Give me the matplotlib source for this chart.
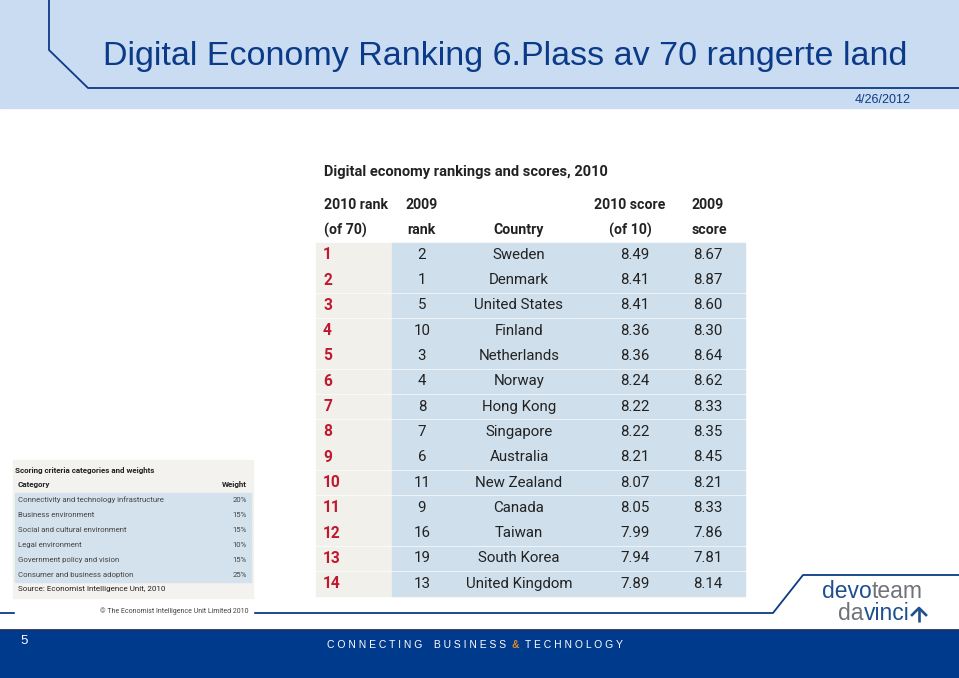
import matplotlib
matplotlib.use("Agg")
import matplotlib.pyplot as plt
from matplotlib.patches import Rectangle

# ---- data ----
rank_2010 = [1, 2, 3, 4, 5, 6, 7, 8, 9, 10, 11, 12, 13, 14]
rank_2009 = [2, 1, 5, 10, 3, 4, 8, 7, 6, 11, 9, 16, 19, 13]
countries = ["Sweden", "Denmark", "United States", "Finland", "Netherlands",
             "Norway", "Hong Kong", "Singapore", "Australia", "New Zealand",
             "Canada", "Taiwan", "South Korea", "United Kingdom"]
score_2010 = [8.49, 8.41, 8.41, 8.36, 8.36, 8.24, 8.22, 8.22, 8.21, 8.07,
              8.05, 7.99, 7.94, 7.89]
score_2009 = [8.67, 8.87, 8.60, 8.30, 8.64, 8.62, 8.33, 8.35, 8.45, 8.21,
              8.33, 7.86, 7.81, 8.14]

criteria = ["Connectivity and technology infrastructure", "Business environment",
            "Social and cultural environment", "Legal environment",
            "Government policy and vision", "Consumer and business adoption"]
weights = [20, 15, 15, 10, 15, 25]

W, H = 959, 678
DARK = "#0b3a88"
BAND = "#c9dcf1"
ROWBLUE = "#cfdfeb"
BEIGE = "#f2f0eb"
TXT = "#222222"
RED = "#c0182e"
NARROW = ["Roboto", "DejaVu Sans"]
SANS = ["Liberation Sans", "DejaVu Sans"]

fig = plt.figure(figsize=(W / 100, H / 100), dpi=100)
ax = fig.add_axes([0, 0, 1, 1])
ax.set_xlim(0, W)
ax.set_ylim(H, 0)
ax.axis("off")

# header band
ax.add_patch(Rectangle((0, 0), W, 108, color=BAND, zorder=0))
ax.plot([49, 49, 88, W], [0, 50, 88, 88], color=DARK, lw=1.3)
ax.text(103, 56, "Digital Economy Ranking 6.Plass av 70 rangerte land",
        family=SANS, fontsize=24.5, color=DARK, va="center", ha="left")
ax.text(911, 100, "4/26/2012", family=SANS, fontsize=9, color=DARK,
        va="center", ha="right")

# main table
hf = dict(family=NARROW, fontsize=10.2, fontweight="bold", color=TXT, va="center")
ax.text(324, 172, "Digital economy rankings and scores, 2010", family=NARROW,
        fontsize=10.5, fontweight="bold", color=TXT, va="center")
hy1, hy2 = 205, 230
ax.text(324, hy1, "2010 rank", **hf)
ax.text(324, hy2, "(of 70)", **hf)
ax.text(405, hy1, "2009", **hf)
ax.text(407, hy2, "rank", **hf)
ax.text(519, hy2, "Country", ha="center", **hf)
ax.text(630, hy1, "2010 score", ha="center", **hf)
ax.text(630, hy2, "(of 10)", ha="center", **hf)
ax.text(692, hy1, "2009", **hf)
ax.text(692, hy2, "score", **hf)

cf = dict(family=NARROW, fontsize=10.8, color=TXT, va="center", ha="center", zorder=2)
top, step, gap = 243, 25.3, 1.7
for i in range(len(countries)):
    y0 = top + i * step
    ax.add_patch(Rectangle((316, y0), 76, step - gap, color=BEIGE, zorder=1))
    ax.add_patch(Rectangle((392, y0), 353, step - gap, color=ROWBLUE, zorder=1))
    yc = y0 + (step - gap) / 2
    ax.text(323, yc, str(rank_2010[i]), family=NARROW, fontsize=11.2,
            fontweight="bold", color=RED, va="center", zorder=2)
    ax.text(422, yc, str(rank_2009[i]), **cf)
    ax.text(519, yc, countries[i], **cf)
    ax.text(635, yc, f"{score_2010[i]:.2f}", **cf)
    ax.text(708, yc, f"{score_2009[i]:.2f}", **cf)

# small criteria table
ax.add_patch(Rectangle((13, 460), 240, 138, color="#f4f2ee", zorder=1))
ax.text(15, 470, "Scoring criteria categories and weights", family=NARROW,
        fontsize=5.8, fontweight="bold", color=TXT, va="center", zorder=2)
ax.text(18, 485, "Category", family=NARROW, fontsize=5.8, fontweight="bold",
        color=TXT, va="center", zorder=2)
ax.text(247, 485, "Weight", family=NARROW, fontsize=5.8, fontweight="bold",
        color=TXT, va="center", ha="right", zorder=2)
for i, (c, w) in enumerate(zip(criteria, weights)):
    y0 = 493 + i * 15
    ax.add_patch(Rectangle((15, y0), 236, 13.6, color="#d3e2ec", zorder=1))
    ax.text(18, y0 + 7, c, family=NARROW, fontsize=5.6, color="#444444",
            va="center", zorder=2)
    ax.text(247, y0 + 7, f"{w}%", family=NARROW, fontsize=5.6, color="#444444",
            va="center", ha="right", zorder=2)
ax.text(18, 589, "Source: Economist Intelligence Unit, 2010", family=NARROW,
        fontsize=5.8, color=TXT, va="center", zorder=2)

# separator line with step up to the logo
ax.plot([0, 773, 803, W], [613, 613, 575, 575], color=DARK, lw=1.3, zorder=1)
ax.add_patch(Rectangle((15, 602), 238, 18, color="white", zorder=2))
ax.text(174, 611, "\u00a9 The Economist Intelligence Unit Limited 2010",
        family=NARROW, fontsize=5.0, color="#444444", va="center", ha="center",
        zorder=3)

# logo
lf = dict(family=SANS, fontsize=16.5, va="center", zorder=3)
t = ax.text(822, 592, "devo", color="#1f4f8f", **lf)
fig.canvas.draw()
ax.text(822 + t.get_window_extent().width, 592, "team", color="#6f7278", **lf)
t2 = ax.text(838, 613, "da", color="#6f7278", **lf)
fig.canvas.draw()
ax.text(838 + t2.get_window_extent().width, 613, "vinci", color="#1f4f8f", **lf)
ax.plot([919, 919], [608, 622], color="#1f4f8f", lw=1.9, zorder=3,
        solid_capstyle="butt")
ax.plot([912, 919, 926], [615, 608, 615], color="#1f4f8f", lw=1.9, zorder=3)

# bottom bar
ax.add_patch(Rectangle((0, 630), W, 48, color="#003a8c", zorder=1))
ax.plot([0, W], [630, 630], color="#1b2f5e", lw=1.2, zorder=2)
ax.text(20, 641, "5", family=SANS, fontsize=9.5, color="white", va="center", zorder=3)
bf = dict(family=SANS, fontsize=7.5, va="center", zorder=3)
ax.text(327, 645, "C O N N E C T I N G    B U S I N E S S", color="white", **bf)
ax.text(512, 645, "&", color="#d88a2a", fontweight="bold", **bf)
ax.text(525, 645, "T E C H N O L O G Y", color="white", **bf)

fig.savefig("out.png", dpi=100)
